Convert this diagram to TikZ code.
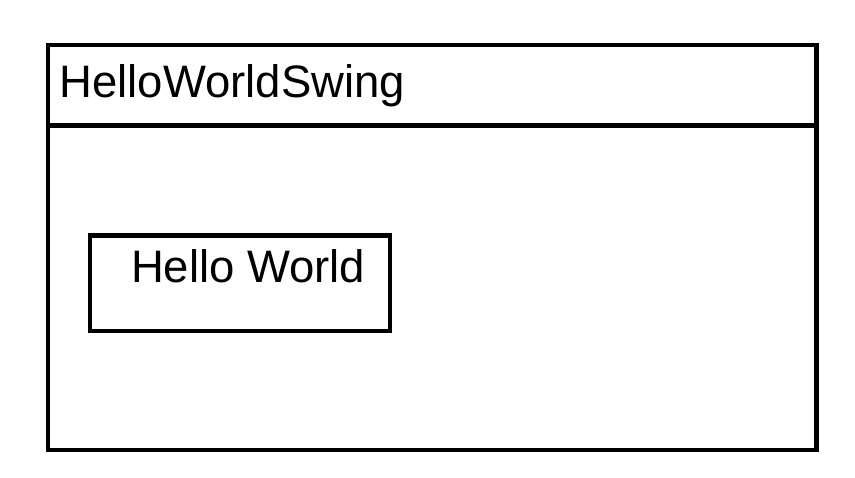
\documentclass[tikz,border=0pt]{standalone}
\usepackage{fontspec}
\setmainfont{Liberation Sans}
\begin{document}
\begin{tikzpicture}[x=1pt,y=-1pt,
  frameline/.style={draw=black,line width=4.4pt},
  boxshape/.style={frameline,rectangle,inner sep=0pt,outer sep=0pt,anchor=north west},
  txt/.style={inner sep=0pt,outer sep=0pt,anchor=base west,font=\fontsize{45.5}{50}\selectfont}]
\useasboundingbox[fill=white] (0,0) rectangle (855,478);
\node[boxshape,minimum width=768.3pt,minimum height=405.3pt] (frame) at (48,45) {};
\coordinate (divL) at (48,125.5);
\coordinate (divR) at (816.3,125.5);
\draw[frameline] (divL) -- (divR);
\node[txt] (title) at (59.5,97.5) {HelloWorldSwing};
\node[txt] (hello) at (131,282.5) {Hello World};
\node[boxshape,minimum width=300.5pt,minimum height=95.5pt] (label) at (89.7,235.5) {};
\end{tikzpicture}
\end{document}
